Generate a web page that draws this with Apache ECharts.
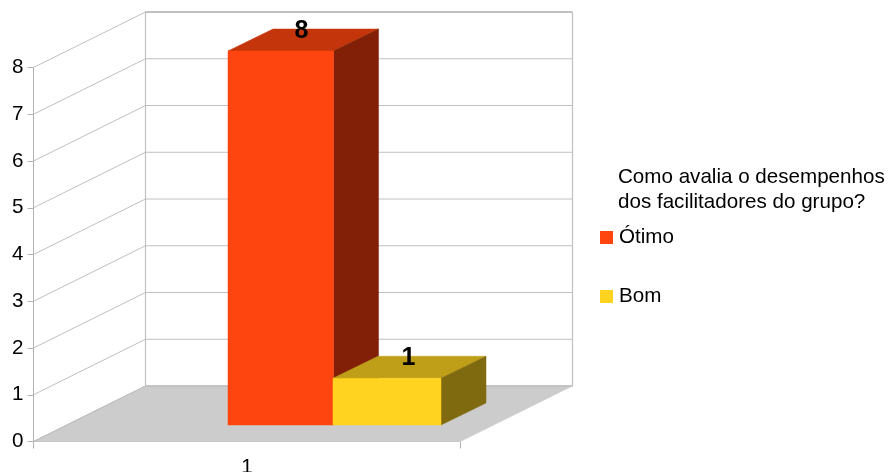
<!DOCTYPE html>
<html><head><meta charset="utf-8">
<script src="https://cdn.jsdelivr.net/npm/echarts@6/dist/echarts.min.js"></script>
<style>html,body{margin:0;padding:0;background:#fff}#c{width:888px;height:472px}</style></head>
<body><div id="c"></div>
<script>
var categories = ['1'];
var yTicks = [0, 1, 2, 3, 4, 5, 6, 7, 8];
var legendTitle = 'Como avalia o desempenhos\ndos facilitadores do grupo?';
var seriesNames = ['Ótimo', 'Bom'];
var otimoValues = [8];
var bomValues = [1];

var FONT = '"Liberation Sans", Arial, sans-serif';
var DEPTH = [112, -55.5];            // wall depth in pixels
var BAR_SHIFT = [33, -16.5];         // front of bars, from front plane
var BAR_DEPTH = [45, -22];           // bar depth
var LINE = '#c0c0c0';

function poly(pts, fill, z) {
  return { type: 'polygon', z2: z || 0, shape: { points: pts }, style: { fill: fill, stroke: fill, lineWidth: 0.5 } };
}
function seg(x1, y1, x2, y2, w) {
  return { type: 'line', shape: { x1: x1, y1: y1, x2: x2, y2: y2 }, style: { stroke: LINE, lineWidth: w || 1 } };
}

function renderWalls(params, api) {
  var cs = params.coordSys;
  var y0 = api.coord([categories[0], 0])[1];
  var yTop = api.coord([categories[0], yTicks[yTicks.length - 1]])[1];
  var l = cs.x, r = cs.x + cs.width, dx = DEPTH[0], dy = DEPTH[1];
  return { type: 'group', children: [
    poly([[l, y0], [l + dx, y0 + dy], [r + dx, y0 + dy], [r, y0]], '#cccccc'),
    seg(l + dx, y0 + dy, l + dx, yTop + dy, 1.2),
    seg(r + dx, y0 + dy, r + dx, yTop + dy, 1.2),
    seg(l + dx, y0 + dy, r + dx, y0 + dy, 1.5),
    seg(l, y0, l + dx, y0 + dy, 1)
  ] };
}
function renderGrid(params, api) {
  var cs = params.coordSys;
  var y = api.coord([categories[0], api.value(1)])[1];
  var l = cs.x, r = cs.x + cs.width, dx = DEPTH[0], dy = DEPTH[1];
  var top = api.value(1) === yTicks[yTicks.length - 1];
  return { type: 'group', children: [
    seg(l, y, l + dx, y + dy, 1),
    seg(l + dx, y + dy, r + dx, y + dy, top ? 2 : 1)
  ] };
}
function barRender(cfg) {
  return function (params, api) {
    var c0 = api.coord([categories[api.value(0)], 0]);
    var c1 = api.coord([categories[api.value(0)], api.value(1)]);
    var xl = c0[0] + cfg.from + BAR_SHIFT[0], xr = c0[0] + cfg.to + BAR_SHIFT[0];
    var yb = c0[1] + BAR_SHIFT[1], yt = c1[1] + BAR_SHIFT[1];
    var dx = BAR_DEPTH[0], dy = BAR_DEPTH[1];
    return { type: 'group', children: [
      poly([[xl, yt], [xr, yt], [xr + dx, yt + dy], [xl + dx, yt + dy]], cfg.top),
      poly([[xr, yt], [xr + dx, yt + dy], [xr + dx, yb + dy], [xr, yb]], cfg.side),
      poly([[xl, yt], [xr, yt], [xr, yb], [xl, yb]], cfg.front),
      { type: 'text', z2: 5, style: {
          text: String(api.value(1)), x: (xl + xr) / 2 + dx / 2 + cfg.labelShift, y: yt + dy + 2,
          fill: '#000', font: 'bold 25px ' + FONT, align: 'center', verticalAlign: 'middle' } }
    ] };
  };
}
var otimoStyle = { from: -52, to: 53.5, front: '#ff450f', top: '#c5350b', side: '#822007', labelShift: -1.75 };
var bomStyle = { from: 53, to: 161, front: '#ffd320', top: '#bf9e18', side: '#806a10', labelShift: -1 };

function toItems(vals) { return vals.map(function (v, i) { return [i, v]; }); }

var chart = echarts.init(document.getElementById('c'), null, { renderer: 'canvas' });
chart.setOption({
  animation: false,
  backgroundColor: '#fff',
  grid: { left: 33.5, top: 67.5, width: 427, height: 374, containLabel: false, outerBoundsMode: 'none' },
  title: { text: legendTitle, left: 613, top: 160,
    textStyle: { fontFamily: FONT, fontSize: 20.6, fontWeight: 'normal', color: '#000', lineHeight: 25 } },
  legend: { orient: 'vertical', left: 600, top: 227, itemWidth: 13, itemHeight: 13, itemGap: 38,
    icon: 'rect', padding: 0, data: seriesNames,
    textStyle: { fontFamily: FONT, fontSize: 20.6, color: '#000', padding: [0, 0, 3, 1] } },
  xAxis: { type: 'category', data: categories,
    axisLine: { lineStyle: { color: LINE, width: 1 } },
    axisTick: { show: true, length: 7, alignWithLabel: false, lineStyle: { color: '#b3b3b3' } },
    axisLabel: { fontFamily: FONT, fontSize: 20.6, color: '#000', margin: 15 } },
  yAxis: { type: 'value', min: 0, max: 8, interval: 1,
    axisLine: { show: true, lineStyle: { color: '#b3b3b3', width: 1 } },
    axisTick: { show: true, length: 6, lineStyle: { color: '#b3b3b3' } },
    splitLine: { show: false },
    axisLabel: { fontFamily: FONT, fontSize: 20.6, color: '#000', margin: 10, padding: [0, 0, 3, 0] } },
  series: [
    { type: 'custom', name: 'walls', silent: true, z: 1, clip: false, renderItem: renderWalls, data: [[0, 0]], encode: { x: 0, y: 1 } },
    { type: 'custom', name: 'grid', silent: true, z: 2, clip: false, renderItem: renderGrid, data: yTicks.map(function (v) { return [0, v]; }), encode: { x: 0, y: 1 } },
    { type: 'custom', name: seriesNames[0], silent: true, z: 3, clip: false, itemStyle: { color: otimoStyle.front }, renderItem: barRender(otimoStyle), data: toItems(otimoValues), encode: { x: 0, y: 1 } },
    { type: 'custom', name: seriesNames[1], silent: true, z: 4, clip: false, itemStyle: { color: bomStyle.front }, renderItem: barRender(bomStyle), data: toItems(bomValues), encode: { x: 0, y: 1 } }
  ]
});
</script></body></html>
